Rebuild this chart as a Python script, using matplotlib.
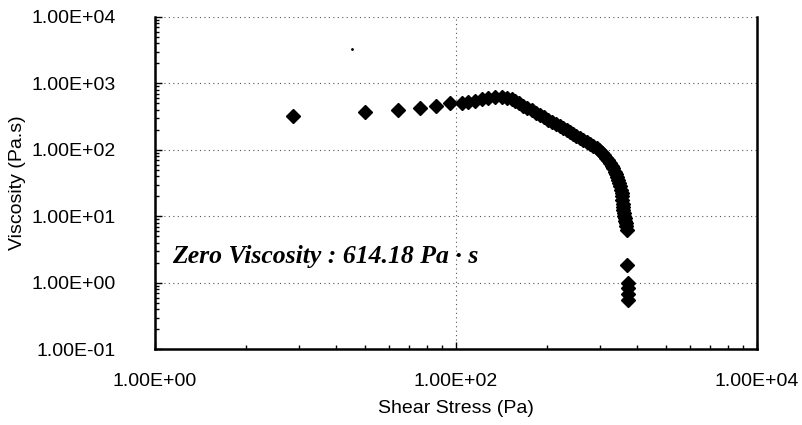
import matplotlib
matplotlib.use('Agg')
import matplotlib.pyplot as plt
from matplotlib.ticker import FuncFormatter, FixedLocator

# Shear stress (Pa) and viscosity (Pa.s)
stress = [
    8.2, 24.8, 41, 57.6, 73.3, 91, 109, 121, 134, 148, 164, 182, 201,
    217, 234, 247, 263, 280, 298, 318, 339, 361, 385, 410, 437, 463,
    491, 516, 543, 571, 603, 631, 667, 701, 738, 776, 817, 861, 895,
    929, 966, 1000, 1028, 1059, 1084, 1109, 1135, 1153, 1169, 1189,
    1208, 1230, 1245, 1259, 1268, 1276, 1282, 1288, 1294, 1303, 1312,
    1324, 1337, 1343, 1352, 1361, 1362, 1383, 1383, 1383, 1383,
]
viscosity = [
    324, 375, 398, 422, 457, 505, 500, 518, 547, 574, 607, 630, 632,
    603, 575, 537, 500, 457, 427, 398, 363, 331, 309, 285, 263, 245,
    229, 214, 200, 186, 174, 162, 151, 141, 132, 123, 115, 105, 98,
    89, 83, 76, 71, 63, 57.5, 52.5, 47, 43, 39, 35.5,
    31.6, 28.2, 25, 22.4, 20, 17.4, 15.5, 13.8, 12.4, 11.2, 10,
    9.3, 8.5, 7.85, 7.1, 6.2, 1.85, 0.98, 0.83, 0.68, 0.55,
]

# stray speck in the scan
speck_x = [20.4]
speck_y = [3280]

x_major = [1, 100, 10000]
y_major = [0.1, 1, 10, 100, 1000, 10000]

note = 'Zero Viscosity : 614.18 Pa \u00b7 s'

plt.rcParams['font.family'] = ['Liberation Sans', 'DejaVu Sans']

fig = plt.figure(figsize=(8.03, 4.25), dpi=100)
ax = fig.add_axes([0.193, 0.178, 0.7497, 0.7825])

ax.set_xscale('log')
ax.set_yscale('log')
ax.set_xlim(1, 10000)
ax.set_ylim(0.1, 10000)

ax.plot(stress, viscosity, 'D', color='black', ms=7, mec='black')
ax.plot(speck_x, speck_y, '.', color='black', ms=2)

# axis ticks, excel style log base 100 on x
ax.xaxis.set_major_locator(FixedLocator(x_major))
x_minor = [k * k * b for b in (1, 100) for k in range(2, 10)]
ax.xaxis.set_minor_locator(FixedLocator(x_minor))
ax.yaxis.set_major_locator(FixedLocator(y_major))
y_minor = [k * 10.0 ** e for e in range(-1, 4) for k in range(2, 10)]
ax.yaxis.set_minor_locator(FixedLocator(y_minor))

fmt = FuncFormatter(lambda v, p: f'{v:.2E}')
ax.xaxis.set_major_formatter(fmt)
ax.yaxis.set_major_formatter(fmt)
ax.xaxis.set_minor_formatter(FuncFormatter(lambda v, p: ''))
ax.yaxis.set_minor_formatter(FuncFormatter(lambda v, p: ''))

ax.tick_params(which='both', direction='in', width=1, color='black',
               labelsize=14, top=False, right=False)
ax.tick_params(which='major', length=5)
ax.tick_params(which='minor', length=3)
ax.tick_params(axis='x', pad=17)
ax.tick_params(axis='y', pad=28)

ax.grid(True, which='major', linestyle=(0, (1, 3)), color='#555555', linewidth=0.8)

for s in ['left', 'bottom', 'right']:
    ax.spines[s].set_linewidth(1.8)
ax.spines['top'].set_visible(False)

ax.set_xlabel('Shear Stress (Pa)', fontsize=14, labelpad=7)
ax.set_ylabel('Viscosity (Pa.s)', fontsize=14, labelpad=4)

ax.text(1.3, 1.96, note, family=['Liberation Serif'], fontsize=18.5,
        fontweight='bold', fontstyle='italic', ha='left', va='baseline')

fig.savefig('out.png', dpi=100)
